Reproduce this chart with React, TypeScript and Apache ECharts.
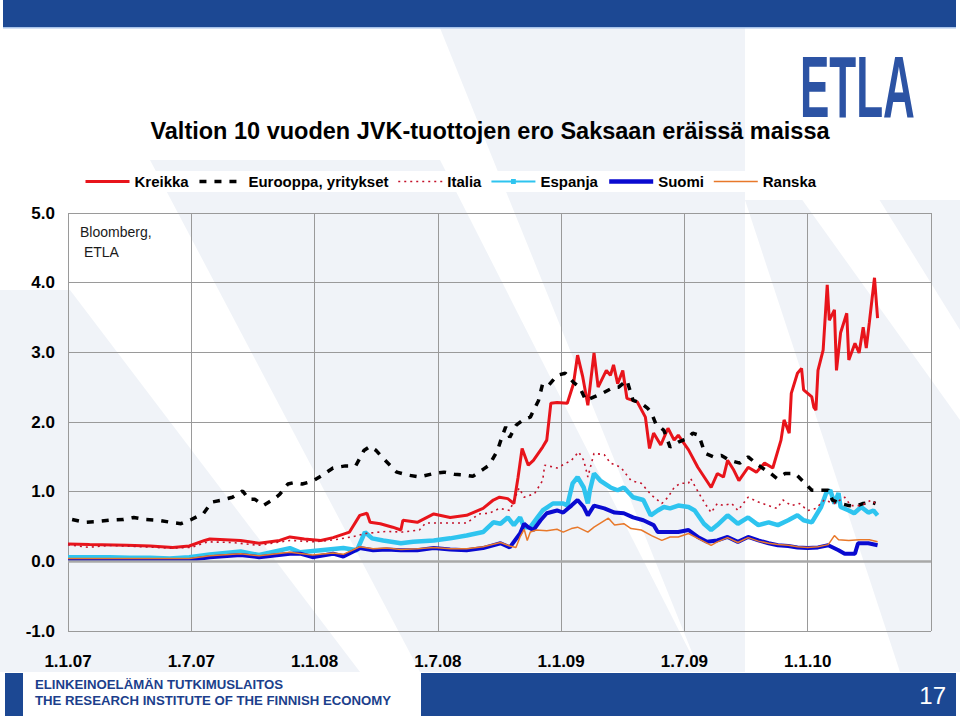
import React, { useEffect, useRef } from "react";
import * as echarts from "echarts";

// x = months since 1.1.2007
const xTickLabels = ["1.1.07", "1.7.07", "1.1.08", "1.7.08", "1.1.09", "1.7.09", "1.1.10", ""];

const kreikka: number[][] = [
  [0, 0.25], [1.05, 0.24], [2.85, 0.23], [4, 0.22], [5.1, 0.2], [5.9, 0.22], [6.65, 0.3], [6.9, 0.32],
  [8.4, 0.3], [9.3, 0.26], [10.3, 0.3], [10.8, 0.35], [11.5, 0.32], [12.3, 0.3], [12.9, 0.34], [13.7, 0.42],
  [14.2, 0.66], [14.55, 0.69], [14.7, 0.56], [15.2, 0.54], [15.8, 0.49], [16.2, 0.45], [16.3, 0.59], [17, 0.56],
  [17.8, 0.68], [18.6, 0.63], [19.4, 0.66], [20.2, 0.76], [20.7, 0.88], [21.0, 0.92], [21.4, 0.9], [21.7, 0.83],
  [21.9, 1.2], [22.1, 1.62], [22.4, 1.38], [22.65, 1.45], [23.1, 1.64], [23.3, 1.74], [23.5, 2.27], [23.8, 2.28],
  [24.3, 2.27], [24.6, 2.55], [24.8, 2.96], [25.05, 2.65], [25.3, 2.24], [25.6, 2.99], [25.8, 2.5], [26.2, 2.74],
  [26.4, 2.67], [26.55, 2.82], [26.75, 2.55], [27, 2.74], [27.2, 2.34], [27.7, 2.29], [28.1, 2.07], [28.3, 1.62],
  [28.5, 1.84], [28.85, 1.67], [29.2, 1.91], [29.5, 1.74], [29.7, 1.81], [30.2, 1.6], [30.65, 1.35], [31.3, 1.06],
  [31.6, 1.26], [31.9, 1.21], [32.1, 1.45], [32.4, 1.31], [32.65, 1.16], [33.1, 1.35], [33.5, 1.28], [33.9, 1.41],
  [34.3, 1.34], [34.7, 1.74], [34.85, 2.03], [35.1, 1.84], [35.2, 2.41], [35.5, 2.7], [35.7, 2.77], [35.8, 2.46],
  [36.2, 2.36], [36.3, 2.21], [36.4, 2.17], [36.5, 2.74], [36.75, 3.03], [36.95, 3.97], [37.05, 3.46], [37.3, 3.61],
  [37.4, 2.74], [37.6, 3.28], [37.9, 3.56], [38, 2.89], [38.3, 3.13], [38.5, 2.99], [38.7, 3.36], [38.85, 3.06],
  [39, 3.43], [39.25, 4.07], [39.4, 3.49],
];

const eurooppa: number[][] = [
  [0.2, 0.6], [0.8, 0.56], [1.4, 0.57], [2.0, 0.59], [2.7, 0.6], [3.2, 0.63], [3.8, 0.6], [4.4, 0.59],
  [5.0, 0.56], [5.5, 0.54], [6.0, 0.6], [6.6, 0.69], [7.0, 0.85], [7.5, 0.88], [8.0, 0.92], [8.5, 1.01],
  [8.8, 0.89], [9.1, 0.89], [9.5, 0.8], [10.0, 0.89], [10.3, 0.96], [10.7, 1.11], [11.0, 1.13], [11.4, 1.11],
  [11.9, 1.15], [12.4, 1.24], [12.9, 1.34], [13.5, 1.37], [14.0, 1.37], [14.4, 1.59], [14.7, 1.65], [15.0, 1.59],
  [15.3, 1.49], [16.0, 1.28], [16.5, 1.24], [17.1, 1.21], [17.8, 1.26], [18.3, 1.28], [18.8, 1.25], [19.3, 1.24],
  [19.7, 1.22], [20.2, 1.32], [20.5, 1.38], [20.9, 1.59], [21.1, 1.77], [21.3, 1.93], [21.5, 1.78], [21.8, 1.95],
  [22.2, 2.04], [22.5, 2.07], [22.9, 2.31], [23.1, 2.55], [23.4, 2.53], [23.8, 2.67], [24.2, 2.7], [24.6, 2.57],
  [24.9, 2.5], [25.2, 2.31], [25.6, 2.36], [26.0, 2.41], [26.5, 2.49], [26.8, 2.5], [27.2, 2.6], [27.5, 2.31],
  [27.9, 2.27], [28.2, 2.2], [28.4, 2.13], [28.6, 1.98], [29.0, 1.88], [29.3, 1.64], [29.7, 1.71], [30.2, 1.77],
  [30.4, 1.84], [30.7, 1.81], [31.0, 1.55], [31.4, 1.5], [31.8, 1.52], [32.2, 1.45], [32.7, 1.41], [33.1, 1.5],
  [33.6, 1.38], [34.2, 1.26], [34.5, 1.19], [34.9, 1.26], [35.4, 1.26], [35.8, 1.14], [36.2, 1.02], [36.6, 1.02],
  [37.0, 1.02], [37.2, 0.88], [37.6, 0.83], [38.0, 0.8], [38.3, 0.79], [38.7, 0.83], [39.1, 0.85], [39.3, 0.83],
];

const italia: number[][] = [
  [0, 0.24], [1, 0.2], [2, 0.23], [3.5, 0.21], [5, 0.19], [6, 0.2], [6.8, 0.28], [8, 0.27],
  [9.3, 0.23], [10.8, 0.3], [12, 0.28], [13, 0.31], [13.8, 0.35], [14.5, 0.4], [15.5, 0.43], [16.3, 0.42],
  [17.1, 0.45], [17.4, 0.55], [18.5, 0.55], [19.4, 0.55], [20, 0.68], [20.5, 0.69], [21, 0.76], [21.5, 0.73],
  [21.95, 1.05], [22.2, 0.92], [22.7, 0.97], [23.1, 1.16], [23.2, 1.38], [23.8, 1.34], [24.5, 1.45], [24.85, 1.57],
  [25.1, 1.45], [25.3, 1.21], [25.6, 1.55], [26.1, 1.53], [26.4, 1.41], [26.9, 1.35], [27.4, 1.16], [27.9, 1.12],
  [28.4, 0.95], [28.9, 0.83], [29.2, 0.92], [29.5, 1.06], [29.8, 1.12], [30.2, 1.12], [30.3, 1.19], [30.7, 0.98],
  [31, 0.83], [31.3, 0.7], [31.6, 0.83], [31.9, 0.8], [32.3, 0.83], [32.6, 0.73], [33.1, 0.92], [33.6, 0.85],
  [34.1, 0.8], [34.5, 0.76], [34.8, 0.88], [35.2, 0.8], [35.6, 0.83], [36, 0.73], [36.4, 0.76], [36.8, 0.88],
  [37.3, 0.83], [37.8, 0.92], [38.1, 0.8], [38.6, 0.8], [39.1, 0.88], [39.3, 0.83],
];

const espanja: number[][] = [
  [0, 0.06], [2, 0.06], [3, 0.05], [4, 0.05], [4.95, 0.04], [5.9, 0.06], [6.9, 0.1], [8.4, 0.14],
  [9.3, 0.09], [10.8, 0.19], [11.3, 0.13], [12.3, 0.16], [13.4, 0.19], [14.07, 0.16], [14.45, 0.42], [14.8, 0.33],
  [15.34, 0.3], [16.2, 0.26], [16.8, 0.28], [17.8, 0.3], [18.6, 0.33], [19.4, 0.37], [20.2, 0.42], [20.7, 0.56],
  [21.05, 0.54], [21.4, 0.63], [21.7, 0.52], [22, 0.63], [22.2, 0.49], [22.5, 0.49], [22.85, 0.63], [23.1, 0.73],
  [23.6, 0.83], [24.1, 0.83], [24.3, 0.8], [24.56, 1.12], [24.8, 1.21], [25.1, 1.06], [25.3, 0.83], [25.4, 1.02],
  [25.6, 1.26], [25.9, 1.16], [26.4, 1.06], [26.75, 1.02], [27.05, 1.06], [27.5, 0.92], [28, 0.88], [28.36, 0.66],
  [28.7, 0.73], [29, 0.78], [29.3, 0.76], [29.7, 0.8], [30.2, 0.78], [30.5, 0.73], [30.95, 0.54], [31.3, 0.45],
  [31.6, 0.52], [32.1, 0.66], [32.6, 0.54], [33.1, 0.63], [33.6, 0.52], [34.1, 0.56], [34.55, 0.52], [35.05, 0.59],
  [35.5, 0.66], [35.8, 0.59], [36.2, 0.56], [36.65, 0.78], [36.9, 0.98], [37.1, 1.02], [37.3, 0.83], [37.5, 0.98],
  [37.6, 0.78], [38, 0.73], [38.26, 0.69], [38.6, 0.78], [38.95, 0.7], [39.2, 0.73], [39.4, 0.66],
];

const suomi: number[][] = [
  [0, 0.02], [3, 0.02], [5.9, 0.02], [6.9, 0.06], [8.4, 0.09], [9.3, 0.06], [10.8, 0.11], [11.3, 0.11],
  [11.9, 0.06], [12.1, 0.07], [12.9, 0.11], [13.4, 0.07], [14.2, 0.19], [14.85, 0.16], [15.5, 0.17], [16.2, 0.16],
  [17, 0.16], [17.8, 0.19], [18.6, 0.17], [19.4, 0.16], [20.2, 0.19], [21.05, 0.26], [21.5, 0.2], [22, 0.4],
  [22.2, 0.54], [22.4, 0.49], [22.65, 0.45], [23, 0.59], [23.3, 0.69], [23.8, 0.73], [24.1, 0.7], [24.5, 0.8],
  [24.8, 0.88], [25.1, 0.78], [25.3, 0.66], [25.6, 0.8], [26.1, 0.76], [26.6, 0.7], [27.05, 0.69], [27.5, 0.63],
  [28, 0.59], [28.5, 0.52], [28.7, 0.42], [29.2, 0.42], [29.7, 0.42], [30.2, 0.45], [30.65, 0.35], [31.1, 0.28],
  [31.6, 0.3], [32.1, 0.35], [32.6, 0.28], [33.1, 0.35], [33.6, 0.3], [34.1, 0.26], [34.55, 0.23], [35.05, 0.22],
  [35.5, 0.2], [36, 0.19], [36.5, 0.2], [37, 0.23], [37.5, 0.16], [37.8, 0.11], [38.3, 0.11], [38.45, 0.26],
  [38.95, 0.26], [39.4, 0.23],
];

const ranska: number[][] = [
  [0, 0.04], [3, 0.04], [5.9, 0.04], [6.9, 0.08], [8.4, 0.11], [9.3, 0.08], [10.8, 0.13], [11.9, 0.09],
  [12.9, 0.12], [13.4, 0.1], [14.2, 0.21], [14.85, 0.18], [15.5, 0.19], [16.2, 0.17], [17, 0.18], [17.8, 0.2],
  [18.6, 0.18], [19.4, 0.18], [20.2, 0.21], [21.05, 0.27], [21.5, 0.22], [21.8, 0.2], [22, 0.35], [22.2, 0.46],
  [22.35, 0.3], [22.5, 0.42], [22.8, 0.45], [23.3, 0.44], [23.8, 0.46], [24.1, 0.42], [24.5, 0.47], [24.8, 0.49],
  [25.3, 0.42], [25.6, 0.49], [26.3, 0.62], [26.6, 0.52], [27.05, 0.54], [27.4, 0.47], [27.9, 0.45], [28.4, 0.37],
  [28.9, 0.3], [29.3, 0.35], [29.7, 0.35], [30.2, 0.4], [30.65, 0.33], [31.3, 0.23], [31.6, 0.28], [32.1, 0.34],
  [32.6, 0.27], [33.1, 0.34], [33.6, 0.29], [34.1, 0.26], [34.55, 0.24], [35.05, 0.23], [35.5, 0.21], [36, 0.2],
  [36.5, 0.21], [37, 0.24], [37.3, 0.37], [37.5, 0.31], [38, 0.3], [38.5, 0.31], [39, 0.31], [39.4, 0.28],
];

const FONT = "'Liberation Sans', Arial, Helvetica, sans-serif";

export default function App() {
  const ref = useRef<HTMLDivElement>(null);
  useEffect(() => {
    if (!ref.current) return;
    const chart = echarts.init(ref.current, null, { renderer: "svg" });
    const bg = "#f0f3f8";
    chart.setOption({
      animation: false,
      backgroundColor: "#ffffff",
      textStyle: { fontFamily: FONT },
      grid: { left: 68, right: 29, top: 213, bottom: 85 },
      legend: {
        left: 80,
        top: 171,
        itemWidth: 44,
        itemHeight: 6,
        itemGap: 9,
        padding: [3, 4],
        backgroundColor: "#ffffff",
        itemStyle: { opacity: 0 },
        textStyle: { fontSize: 15, fontWeight: "bold", color: "#000", fontFamily: FONT },
        data: [
          { name: "Kreikka", lineStyle: { width: 3 } },
          { name: "Eurooppa, yritykset", lineStyle: { width: 3.5 } },
          { name: "Italia", lineStyle: { width: 1.5 } },
          { name: "Espanja", itemStyle: { opacity: 1 }, lineStyle: { width: 2 } },
          { name: "Suomi", lineStyle: { width: 4.5 } },
          { name: "Ranska", lineStyle: { width: 1.5 } },
        ],
      },
      xAxis: {
        type: "value",
        min: 0,
        max: 42,
        interval: 6,
        axisLine: { show: false },
        axisTick: { show: false },
        splitLine: { show: true, lineStyle: { color: "#9a9a9a", width: 1 } },
        axisLabel: {
          margin: 22,
          fontSize: 17,
          fontWeight: "bold",
          color: "#000",
          fontFamily: FONT,
          formatter: (v: number) => xTickLabels[Math.round(v / 6)] ?? "",
        },
      },
      yAxis: {
        type: "value",
        min: -1,
        max: 5,
        interval: 1,
        axisLine: { show: false },
        axisTick: { show: false },
        splitLine: { show: true, lineStyle: { color: "#9a9a9a", width: 1 } },
        axisLabel: {
          margin: 13,
          fontSize: 17,
          fontWeight: "bold",
          color: "#000",
          fontFamily: FONT,
          formatter: (v: number) => v.toFixed(1),
        },
      },
      graphic: [
        // background decoration
        { type: "polygon", z: -10, silent: true, shape: { points: [[440, 28], [745, 28], [745, 672], [700, 672]] }, style: { fill: bg } },
        { type: "polygon", z: -10, silent: true, shape: { points: [[0, 290], [70, 290], [360, 672], [0, 672]] }, style: { fill: bg } },
        { type: "polygon", z: -10, silent: true, shape: { points: [[150, 160], [440, 160], [700, 672], [420, 672]] }, style: { fill: bg } },
        { type: "polygon", z: -10, silent: true, shape: { points: [[745, 200], [960, 200], [960, 672], [900, 672]] }, style: { fill: bg } },
        { type: "polygon", z: -10, silent: true, shape: { points: [[745, 120], [830, 120], [960, 330], [960, 420]] }, style: { fill: "#ffffff" } },
        // top banner
        { type: "rect", z: 10, shape: { x: 3, y: 0, width: 953, height: 27 }, style: { fill: "#1c4893" } },
        { type: "rect", z: 10, shape: { x: 3, y: 27, width: 953, height: 1.5 }, style: { fill: "#a9c4ea" } },
        // logo
        {
          type: "text", z: 10, x: 800, y: 43, scaleX: 0.5, scaleY: 1,
          style: { text: "ETLA", fill: "#2c53a4", font: `bold 88px ${FONT}`, textAlign: "left", textVerticalAlign: "top" },
        },
        // title
        {
          type: "text", z: 10, x: 490, y: 131,
          style: { text: "Valtion 10 vuoden JVK-tuottojen ero Saksaan eräissä maissa", fill: "#000", font: `bold 23.5px ${FONT}`, textAlign: "center", textVerticalAlign: "middle" },
        },
        // source
        {
          type: "text", z: 10, x: 80, y: 222,
          style: { text: "Bloomberg,\n ETLA", fill: "#1a1a1a", font: `14px ${FONT}`, lineHeight: 20, textAlign: "left", textVerticalAlign: "top" },
        },
        // footer
        { type: "rect", z: 10, shape: { x: 5, y: 673, width: 18, height: 43 }, style: { fill: "#1c4893" } },
        { type: "rect", z: 10, shape: { x: 421, y: 673, width: 535, height: 43 }, style: { fill: "#1c4893" } },
        {
          type: "text", z: 10, x: 35, y: 684,
          style: { text: "ELINKEINOELÄMÄN TUTKIMUSLAITOS", fill: "#1c3f8c", font: `bold 13.2px ${FONT}`, textAlign: "left", textVerticalAlign: "middle" },
        },
        {
          type: "text", z: 10, x: 35, y: 700,
          style: { text: "THE RESEARCH INSTITUTE OF THE FINNISH ECONOMY", fill: "#1c3f8c", font: `bold 13.2px ${FONT}`, textAlign: "left", textVerticalAlign: "middle" },
        },
        {
          type: "text", z: 10, x: 946, y: 695,
          style: { text: "17", fill: "#ffffff", font: `24px ${FONT}`, textAlign: "right", textVerticalAlign: "middle" },
        },
      ],
      series: [
        {
          name: "Kreikka", type: "line", data: kreikka, symbol: "none", z: 3,
          lineStyle: { color: "#e8141b", width: 3 }, itemStyle: { color: "#e8141b" },
          markLine: {
            silent: true, symbol: "none", label: { show: false },
            lineStyle: { color: "#a8a8a8", width: 2.5, type: "solid" },
            data: [{ yAxis: 0 }],
          },
        },
        {
          name: "Eurooppa, yritykset", type: "line", data: eurooppa, symbol: "none", z: 4,
          lineStyle: { color: "#000000", width: 3.5, type: [7, 8] }, itemStyle: { color: "#000000" },
        },
        {
          name: "Italia", type: "line", data: italia, symbol: "none", z: 4,
          lineStyle: { color: "#c4122a", width: 1.6, type: [2, 4] }, itemStyle: { color: "#c4122a" },
        },
        {
          name: "Espanja", type: "line", data: espanja, symbol: "rect", symbolSize: 4, showSymbol: false, z: 3,
          lineStyle: { color: "#2ec4ef", width: 4.5 }, itemStyle: { color: "#2ec4ef" },
        },
        {
          name: "Suomi", type: "line", data: suomi, symbol: "none", z: 3,
          lineStyle: { color: "#0a0ad0", width: 4 }, itemStyle: { color: "#0a0ad0" },
        },
        {
          name: "Ranska", type: "line", data: ranska, symbol: "none", z: 3,
          lineStyle: { color: "#e8782a", width: 1.5 }, itemStyle: { color: "#e8782a" },
        },
      ],
    });
    return () => chart.dispose();
  }, []);
  return <div ref={ref} style={{ width: 960, height: 716, position: "absolute", left: 0, top: 0 }} />;
}
